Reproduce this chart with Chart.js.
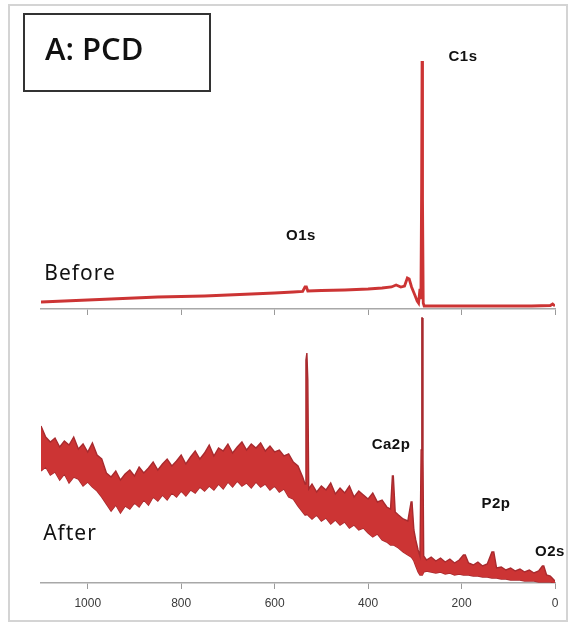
<!DOCTYPE html>
<html>
<head>
<meta charset="utf-8">
<script src="https://cdn.jsdelivr.net/npm/chart.js@4.4.1/dist/chart.umd.min.js"></script>
<style>
  body { margin: 0; background: #fff; }
  #wrap { position: relative; width: 572px; height: 624px; overflow: hidden; }
  #frame { position: absolute; left: 8px; top: 4px; width: 556px; height: 614px; border: 2px solid #d4d4d4; }
  canvas { position: absolute; left: 0; }
  #top { top: 0; }
  #bottom { top: 310px; }
  .lbl { position: absolute; transform: translate(-50%, -50%); white-space: nowrap; color: #111; }
  .peak { font: bold 15px "Liberation Sans", Arial, sans-serif; letter-spacing: 0.5px; }
  .side { font: 21px "Noto Sans", sans-serif; letter-spacing: 1px; }
  #title { position: absolute; left: 23px; top: 13px; width: 184px; height: 75px; border: 2px solid #333; }
  #title span { position: absolute; left: 20px; top: 12px; font: 600 31px "Open Sans", sans-serif; color: #111; }
</style>
</head>
<body>
<div id="wrap">
  <div id="frame"></div>
  <canvas id="top" width="572" height="330"></canvas>
  <canvas id="bottom" width="572" height="314"></canvas>
  <div id="title"><span>A: PCD</span></div>
  <div class="lbl peak" style="left:463px;top:55px">C1s</div>
  <div class="lbl peak" style="left:301px;top:234px">O1s</div>
  <div class="lbl side" style="left:80px;top:272px">Before</div>
  <div class="lbl side" style="left:70px;top:532px">After</div>
  <div class="lbl peak" style="left:391px;top:443px">Ca2p</div>
  <div class="lbl peak" style="left:496px;top:502px">P2p</div>
  <div class="lbl peak" style="left:550px;top:550px">O2s</div>
</div>
<script>
// binding energy (eV) and intensity (arbitrary)
const beforeE = [1100, 1050, 1000, 950, 900, 850, 800, 750, 700, 650, 600, 560, 540, 535, 532, 529,
  500, 450, 400, 370, 350, 340, 330, 322, 316, 312, 307, 300, 295, 292, 289, 287, 285.5, 284.5, 283.5,
  282, 280, 250, 200, 150, 100, 50, 10, 5, 0];
const beforeI = [7, 8, 9, 10, 11, 12, 12.5, 13, 14, 15, 16, 17, 17.5, 22, 22, 18,
  18.5, 19, 20, 21, 22, 24, 22, 23, 31, 30, 22, 14, 8, 6, 20, 10, 120, 248, 110,
  6, 3, 3, 3, 3, 3, 3, 3.5, 5, 3];

const afterE = [1100, 1090, 1080, 1070, 1060, 1050, 1040, 1030, 1020, 1010, 1000, 990, 980, 970, 960,
  950, 940, 930, 920, 910, 900, 890, 880, 870, 860, 850, 840, 830, 820, 810, 800, 790, 780, 770, 760,
  750, 740, 730, 720, 710, 700, 690, 680, 670, 660, 650, 640, 630, 620, 610, 600, 590, 580, 570, 560,
  550, 540, 535, 533, 531, 529, 527, 520, 510, 500, 490, 480, 470, 460, 450, 440, 430, 420, 410, 400,
  390, 380, 370, 360, 352, 348, 346, 342, 335, 325, 315, 308, 306, 302, 298, 293, 289, 286.5, 285, 284,
  282.5, 281, 275, 265, 255, 245, 235, 225, 215, 205, 196, 192, 185, 175, 165, 155, 145, 135, 131,
  125, 115, 105, 95, 85, 75, 65, 55, 45, 35, 27, 24, 18, 10, 0];
// upper and lower edge of the noisy band
const afterTop = [157, 146, 141, 145, 136, 142, 138, 146, 134, 139, 131, 140, 128, 124, 110,
  106, 112, 103, 109, 113, 107, 116, 110, 115, 121, 113, 119, 124, 117, 122, 128, 119, 126, 132, 124,
  130, 138, 127, 135, 132, 139, 130, 136, 141, 133, 139, 135, 140, 132, 137, 131, 133, 127, 129, 121,
  117, 106, 99, 223, 230, 203, 94, 99, 91, 97, 93, 100, 89, 95, 90, 97, 86, 92, 88, 84,
  90, 81, 83, 76, 74, 107, 107, 71, 68, 64, 62, 81, 81, 53, 43, 33, 27, 133, 265, 265,
  123, 27, 23, 26, 22, 25, 21, 24, 20, 23, 28, 28, 20, 18, 21, 17, 19, 31, 31,
  15, 16, 13, 15, 12, 14, 11, 13, 10, 12, 17, 17, 8, 7, 2];
const afterBot = [112, 116, 108, 111, 103, 109, 100, 106, 104, 97, 101, 96, 92, 86, 79,
  72, 78, 70, 77, 74, 80, 76, 83, 78, 86, 82, 88, 83, 90, 86, 92, 87, 93, 90, 96,
  92, 97, 93, 99, 94, 101, 96, 102, 97, 100, 95, 101, 96, 99, 93, 97, 91, 94, 86, 84,
  77, 71, 68, 69, 69, 68, 67, 64, 68, 62, 65, 59, 63, 58, 61, 55, 58, 53, 55, 50,
  46, 49, 43, 41, 38, 38, 38, 37, 35, 31, 28, 26, 25, 22, 17, 11, 8, 8, 8, 8,
  8, 11, 12, 11, 10, 11, 9, 10, 8, 9, 8, 8, 8, 7, 7, 6, 6, 5, 5,
  5, 4, 4, 3, 3, 3, 2, 2, 2, 1, 1, 1, 1, 1, 0];

const xTicks = [0, 200, 400, 600, 800, 1000];

const RED = 'rgb(204, 52, 52)';
const EDGE = 'rgb(168, 42, 46)';

function pts(xs, ys) {
    return xs.map((x, i) => ({ x: x, y: ys[i] }));
}

function xAxis(showLabels, h) {
    return {
        type: 'linear', reverse: true, min: 0, max: 1100,
        afterBuildTicks: s => { s.ticks = xTicks.map(v => ({ value: v })); },
        afterFit: s => { s.height = h; },
        grid: { drawOnChartArea: false, tickLength: 6, color: '#9a9a9a', lineWidth: 1 },
        border: { color: '#a8a8a8', width: 1.5 },
        ticks: {
            display: showLabels, padding: 7, color: '#3a3a3a', maxRotation: 0,
            font: { family: 'Liberation Sans', size: 12 },
            callback: v => String(v)
        }
    };
}

const common = {
    responsive: false, animation: false,
    plugins: { legend: { display: false }, tooltip: { enabled: false } },
    elements: { point: { radius: 0 }, line: { tension: 0 } }
};

new Chart(document.getElementById('top'), {
    type: 'line',
    data: {
        datasets: [{ data: pts(beforeE, beforeI), borderColor: RED, borderWidth: 2.8, fill: false }]
    },
    options: Object.assign({}, common, {
        layout: { padding: { left: 41, right: 17, top: 39, bottom: 13 } },
        scales: {
            x: xAxis(false, 8),
            y: { display: false, min: 0, max: 270 }
        }
    })
});

new Chart(document.getElementById('bottom'), {
    type: 'line',
    data: {
        datasets: [
            { data: pts(afterE, afterTop), borderColor: EDGE, borderWidth: 1.4, fill: '+1', backgroundColor: RED },
            { data: pts(afterE, afterBot), borderColor: EDGE, borderWidth: 1.4, fill: false }
        ]
    },
    options: Object.assign({}, common, {
        layout: { padding: { left: 41, right: 17, top: 3, bottom: 11 } },
        scales: {
            x: xAxis(true, 30),
            y: { display: false, min: 0, max: 270 }
        }
    })
});
</script>
</body>
</html>
